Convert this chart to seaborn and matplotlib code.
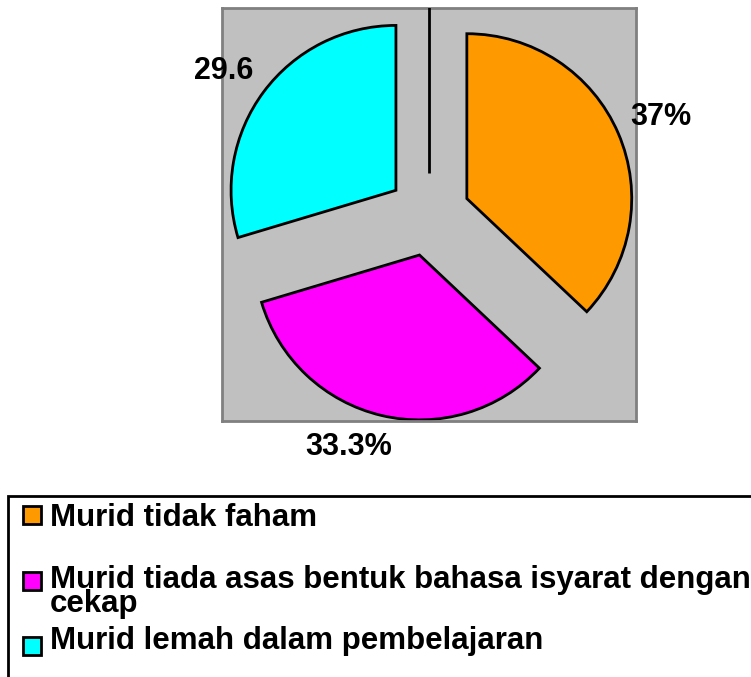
import matplotlib
matplotlib.use("Agg")
import matplotlib.pyplot as plt
from matplotlib.patches import Rectangle
import seaborn as sns

# data
categories = ["Murid tidak faham",
              "Murid tiada asas bentuk bahasa isyarat dengan\ncekap",
              "Murid lemah dalam pembelajaran"]
values = [37.0, 33.3, 29.6]
value_labels = ["37%", "33.3%", "29.6"]
colors = sns.color_palette(["#FF9900", "#FF00FF", "#00FFFF"])

sns.set_theme(style="white")
plt.rcParams["font.family"] = ["Liberation Sans", "DejaVu Sans"]
plt.rcParams["font.weight"] = "bold"
plt.rcParams["text.color"] = "black"

fig = plt.figure(figsize=(7.51, 6.77), dpi=100)
ax = fig.add_axes([222 / 751, 1 - 421 / 677, 414 / 751, 413 / 677])

wedges, texts = ax.pie(values, colors=colors, labels=value_labels, startangle=90,
                       counterclock=False, explode=[0.25] * 3, radius=1, frame=True,
                       labeldistance=1.27,
                       wedgeprops=dict(edgecolor="black", linewidth=2),
                       textprops=dict(fontsize=22, fontweight="bold", color="black"))

# label placement tweaks
label_pos = [(1.405, 0.594), (-0.485, -1.405), (-1.248, 0.87)]
for t, p in zip(texts, label_pos):
    t.set_position(p)
    t.set_ha("center")
    t.set_va("center")
    t.set_clip_on(False)

ax.plot([0, 0], [0.255, 1.26], color="black", lw=2, zorder=3, solid_capstyle="butt")

ax.set_xlim(-1.255, 1.255)
ax.set_ylim(-1.25, 1.255)
ax.set_facecolor("#C0C0C0")
ax.set_xticks([])
ax.set_yticks([])
for s in ax.spines.values():
    s.set_visible(True)
    s.set_color("#808080")
    s.set_linewidth(2)

# legend box drawn by hand
fig.patches.append(Rectangle((8 / 751, -0.05), 1.1, 0.05 + 1 - 496 / 677,
                             transform=fig.transFigure, fill=False,
                             edgecolor="black", lw=2, clip_on=False))
handle_y = [515, 581, 646]
text_y = [518, 592, 641]
for cat, col, hy, ty in zip(categories, colors, handle_y, text_y):
    fig.patches.append(Rectangle((23 / 751, 1 - (hy + 9) / 677), 18 / 751, 18 / 677,
                                 transform=fig.transFigure, facecolor=col,
                                 edgecolor="black", lw=2))
    fig.text(50 / 751, 1 - ty / 677, cat, fontsize=22.5, fontweight="bold",
             color="black", ha="left", va="center", linespacing=0.78)

fig.savefig("out.png", dpi=100)
